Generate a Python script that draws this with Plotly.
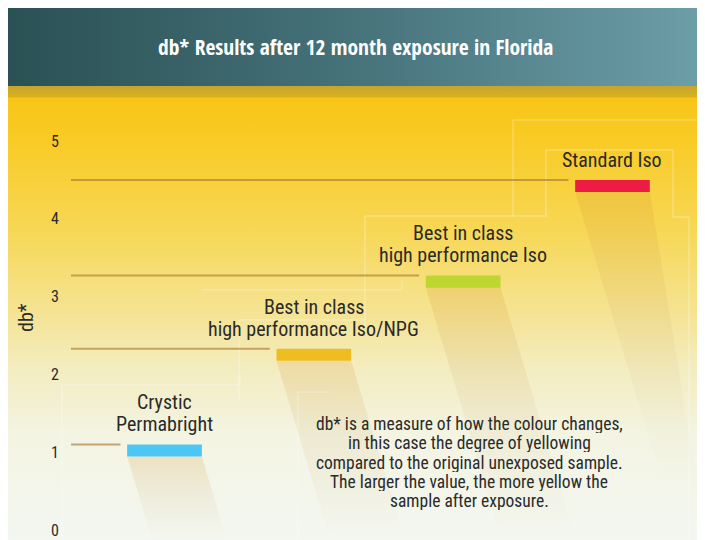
import plotly.graph_objects as go

# ---------------- data ----------------
categories = ["Crystic Permabright", "Best in class high performance Iso/NPG",
              "Best in class high performance Iso", "Standard Iso"]
label_lines = [["Crystic", "Permabright"],
               ["Best in class", "high performance Iso/NPG"],
               ["Best in class", "high performance Iso"],
               ["Standard Iso"]]
db_values = [1.1, 2.33, 3.27, 4.5]
bar_colors = ["#4cc6f2", "#efbd22", "#bdd630", "#ec1c45"]
y_ticks = [0, 1, 2, 3, 4, 5]
title_text = "db* Results after 12 month exposure in Florida"
y_title = "db*"
note_lines = ["db* is a measure of how the colour changes,",
              "in this case the degree of yellowing",
              "compared to the original unexposed sample.",
              "The larger the value, the more yellow the",
              "sample after exposure."]

# ---------------- layout constants (page pixels) ----------------
W, H = 705, 540
L, R = 8, 697            # left / right edge of the coloured panel
LABEL_FONT = "Roboto Condensed, Roboto, sans-serif"
TEXT_COLOR = "#2a2a2a"
idx = list(range(len(categories)))
bar_w = 0.5
bar_h = 0.155           # thickness of the marker bar in db* units
px_per_unit = 149.33    # x spacing of categories in pixels
x0_px = 164.5           # pixel of first category
dom_left_px = 64
zero_px, unit_px = 530, 77.8
x_range = [(dom_left_px - x0_px) / px_per_unit, (W - x0_px) / px_per_unit]
y_range = [0, 5.6]
y_dom = [1 - zero_px / H, 1 - (zero_px - unit_px * y_range[1]) / H]
line_start = (71 - x0_px) / px_per_unit

def cat_px(i):
    return x0_px + px_per_unit * i

def py(p):  # background axis: pixel row -> y value
    return H - p

fig = go.Figure()

# ---------------- background (pixel axes x/y) ----------------
def bg_poly(xs, ys_px, scale, orient, start, stop):
    fig.add_trace(go.Scatter(
        x=xs, y=[py(p) for p in ys_px], mode="lines", fill="toself",
        line=dict(width=0, color="rgba(0,0,0,0)"),
        fillgradient=dict(type=orient, colorscale=scale, start=start, stop=stop),
        hoverinfo="skip", showlegend=False, xaxis="x", yaxis="y"))

# yellow area
bg_poly([L, R, R, L, L], [97, 97, H, H, 97],
        [[0, "#f8c516"], [0.12, "#f8cc2a"], [0.3, "#f7d755"], [0.48, "#f5e391"],
         [0.62, "#f3edc2"], [0.76, "#f3f4e2"], [1, "#f3f7f1"]],
        "vertical", py(97), py(H))
# gold strip
bg_poly([L, R, R, L, L], [86, 86, 97.5, 97.5, 86],
        [[0, "#c6a42e"], [1, "#d9b21f"]], "vertical", py(86), py(97.5))
# title band
bg_poly([L, R, R, L, L], [8, 8, 86, 86, 8],
        [[0, "#2a5154"], [0.5, "#46727a"], [1, "#6c9ea8"]], "horizontal", L, R)

# diagonal shadows below each marker bar
for i, v in zip(idx, db_values):
    bx0 = cat_px(i) - bar_w / 2 * px_per_unit
    bx1 = cat_px(i) + bar_w / 2 * px_per_unit
    top = zero_px - unit_px * (v - bar_h)
    bot = min(H, top + 290)
    dx = 0.3 * (bot - top)
    bg_poly([bx0, bx1, min(R, bx1 + dx), bx0 + dx, bx0], [top, top, bot, bot, top],
            [[0, "rgba(215,150,50,0.20)"], [0.45, "rgba(200,165,100,0.12)"],
             [1, "rgba(200,170,110,0.0)"]],
            "vertical", py(top), py(bot))

# faint white frame lines
frames = [
    ([513, 513, 697], [217, 120, 120]),
    ([546, 546, 673, 673, 689, 689], [217, 150, 150, 217, 217, 540]),
    ([365, 365, 546], [330, 216, 216]),
    ([202, 402, 402], [290, 290, 280]),
    ([239, 239, 365], [400, 320, 320]),
    ([62, 62, 240, 240], [540, 385, 385, 375]),
    ([298, 298, 330], [540, 392, 392]),
]
for fx, fy in frames:
    fig.add_trace(go.Scatter(x=fx, y=[py(p) for p in fy], mode="lines",
                             line=dict(color="rgba(255,255,255,0.38)", width=1),
                             hoverinfo="skip", showlegend=False, xaxis="x", yaxis="y"))

# ---------------- data (axes x2/y2) ----------------
for i, v in zip(idx, db_values):
    fig.add_trace(go.Scatter(
        x=[line_start, i - bar_w / 2 - 0.045], y=[v, v], mode="lines",
        line=dict(color="rgba(165,120,45,0.62)", width=2),
        hoverinfo="skip", showlegend=False, xaxis="x2", yaxis="y2"))

fig.add_trace(go.Bar(
    x=idx, y=[bar_h] * len(db_values), base=[v - bar_h for v in db_values],
    width=bar_w, marker=dict(color=bar_colors, line=dict(width=0)),
    customdata=db_values, hovertemplate="%{customdata}<extra></extra>",
    showlegend=False, xaxis="x2", yaxis="y2"))

# category labels above bars
LSIZE = 20
for i, (v, lines) in enumerate(zip(db_values, label_lines)):
    n = len(lines)
    for k, t in enumerate(lines):
        base_off = 13 + (n - 1 - k) * 22   # baseline offset above bar top (px)
        fig.add_annotation(x=i, y=v, xref="x2", yref="y2", text=t, showarrow=False,
                           xanchor="center", yanchor="middle", height=22,
                           yshift=base_off + 0.355 * LSIZE,
                           font=dict(family=LABEL_FONT, size=LSIZE, color=TEXT_COLOR))

# explanatory note
NSIZE = 17.5
for k, t in enumerate(note_lines):
    baseline = 430 + 19.2 * k
    fig.add_annotation(x=469 / W, y=1 - (baseline - 0.355 * NSIZE) / H,
                       xref="paper", yref="paper", text=t, showarrow=False,
                       xanchor="center", yanchor="middle", height=19,
                       font=dict(family=LABEL_FONT, size=NSIZE, color=TEXT_COLOR))

# title
fig.add_annotation(x=356 / W, y=1 - 46.5 / H, xref="paper", yref="paper", text=title_text,
                   showarrow=False, xanchor="center", yanchor="middle",
                   font=dict(family="Open Sans Condensed, Roboto Condensed, sans-serif",
                             size=21.5, color="white"))
# y-axis title
fig.add_annotation(x=26 / W, y=1 - 318 / H, xref="paper", yref="paper", text=y_title,
                   showarrow=False, textangle=-90, xanchor="center", yanchor="middle",
                   font=dict(family=LABEL_FONT, size=20, color=TEXT_COLOR))

fig.update_layout(
    width=W, height=H, autosize=False,
    margin=dict(l=0, r=0, t=0, b=0, autoexpand=False),
    paper_bgcolor="white", plot_bgcolor="rgba(0,0,0,0)",
    showlegend=False,
    xaxis=dict(domain=[0, 1], range=[0, W], visible=False, fixedrange=True,
               automargin=False),
    yaxis=dict(domain=[0, 1], range=[0, H], visible=False, fixedrange=True,
               automargin=False),
    xaxis2=dict(domain=[dom_left_px / W, 1], range=x_range, visible=False,
                anchor="y2", fixedrange=True, automargin=False),
    yaxis2=dict(domain=y_dom, range=y_range, anchor="x2", tickvals=y_ticks,
                showgrid=False, zeroline=False, showline=False, ticks="",
                ticklabelstandoff=4, ticklabeloverflow="allow", automargin=False,
                tickfont=dict(family=LABEL_FONT, size=16, color=TEXT_COLOR),
                fixedrange=True),
)

# the page itself adds no margin, so the 705x540 figure fills the window exactly
fig.write_html("out.html", config={"displayModeBar": False},
               post_script="document.body.style.margin='0';document.body.style.padding='0';")
